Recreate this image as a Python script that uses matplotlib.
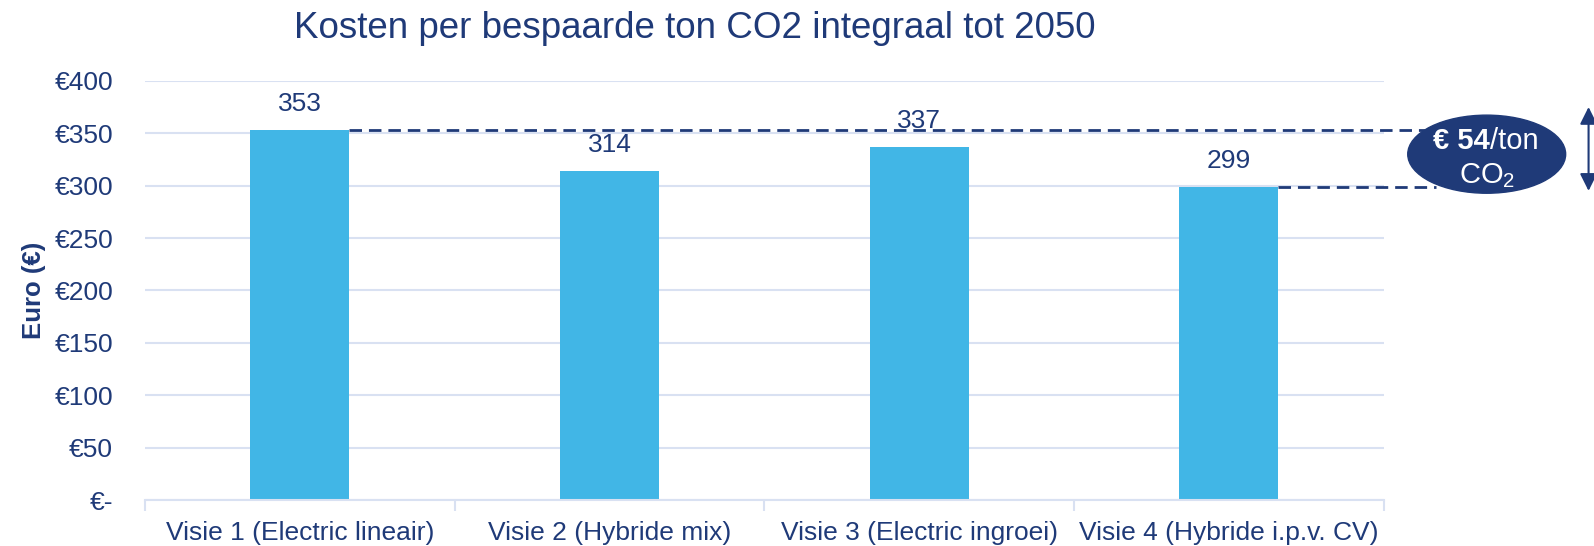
import matplotlib
matplotlib.use("Agg")
import matplotlib.pyplot as plt
from matplotlib.patches import Ellipse

plt.rcParams['font.family'] = ['Liberation Sans', 'DejaVu Sans']
plt.rcParams['mathtext.fontset'] = 'custom'
plt.rcParams['mathtext.rm'] = 'Liberation Sans'

# data
categories = ['Visie 1 (Electric lineair)', 'Visie 2 (Hybride mix)',
              'Visie 3 (Electric ingroei)', 'Visie 4 (Hybride i.p.v. CV)']
values = [353, 314, 337, 299]
yticks = [0, 50, 100, 150, 200, 250, 300, 350, 400]
ytick_labels = ['€-'] + ['€{}'.format(v) for v in yticks[1:]]
title = 'Kosten per bespaarde ton CO2 integraal tot 2050'
ylabel = 'Euro (€)'
diff = values[0] - values[3]

navy = '#1F3A78'
bar_col = '#41B6E6'
grid_col = '#D9E1F2'

fig = plt.figure(figsize=(15.94, 5.46), dpi=100)
ax = fig.add_axes([0.091, 0.084, 0.777, 0.768])

x = range(len(categories))
ax.bar(x, values, width=0.32, color=bar_col, zorder=2)
for i, v in zip(x, values):
    ax.text(i, v + 13, str(v), ha='center', va='bottom', fontsize=19, color=navy, zorder=3)

ax.set_xlim(-0.5, 3.5)
ax.set_ylim(0, 400)
ax.set_yticks(yticks)
ax.set_yticklabels(ytick_labels, fontsize=19, color=navy)
ax.set_xticks(list(x))
ax.set_xticklabels(categories, fontsize=19, color=navy)
ax.tick_params(axis='x', length=0, pad=15)
ax.tick_params(axis='y', length=0, pad=23)
ax.set_xticks([-0.5, 0.5, 1.5, 2.5, 3.5], minor=True)
ax.tick_params(axis='x', which='minor', length=8, color=grid_col, width=1.5)
ax.grid(axis='y', color=grid_col, linewidth=1.5, zorder=0)
for s in ['top', 'right', 'left']:
    ax.spines[s].set_visible(False)
ax.spines['bottom'].set_color(grid_col)
ax.spines['bottom'].set_linewidth(1.5)
ax.set_ylabel(ylabel, fontsize=18.5, fontweight='bold', color=navy, labelpad=6)

fig.text(0.436, 0.948, title, ha='center', va='center', fontsize=26.5, color=navy)

# dashed difference lines
ax.plot([0.16, 3.67], [values[0], values[0]], ls=(0, (4.5, 2.5)), color=navy, lw=2,
        clip_on=False, zorder=4)
ax.plot([3.16, 3.67], [values[3], values[3]], ls=(0, (4.5, 2.5)), color=navy, lw=2,
        clip_on=False, zorder=4)

ey = (values[0] + values[3]) / 2 + 4
ell = Ellipse((3.833, ey), 0.51, 74.5, color=navy, clip_on=False, zorder=5)
ax.add_patch(ell)
ax.text(3.843, ey + 13, '€ {}'.format(diff), ha='right', va='center', fontsize=21,
        fontweight='bold', color='white', zorder=6, clip_on=False)
ax.text(3.843, ey + 13, '/ton', ha='left', va='center', fontsize=21,
        color='white', zorder=6, clip_on=False)
ax.text(3.833, ey - 20, 'CO$_2$', ha='center', va='center', fontsize=21,
        color='white', zorder=6, clip_on=False)

ax.annotate('', xy=(4.162, 375), xytext=(4.162, 295),
            arrowprops=dict(arrowstyle='<|-|>', color=navy, lw=1.5,
                            mutation_scale=26, shrinkA=0, shrinkB=0),
            annotation_clip=False)

fig.savefig('out.png', dpi=100)
